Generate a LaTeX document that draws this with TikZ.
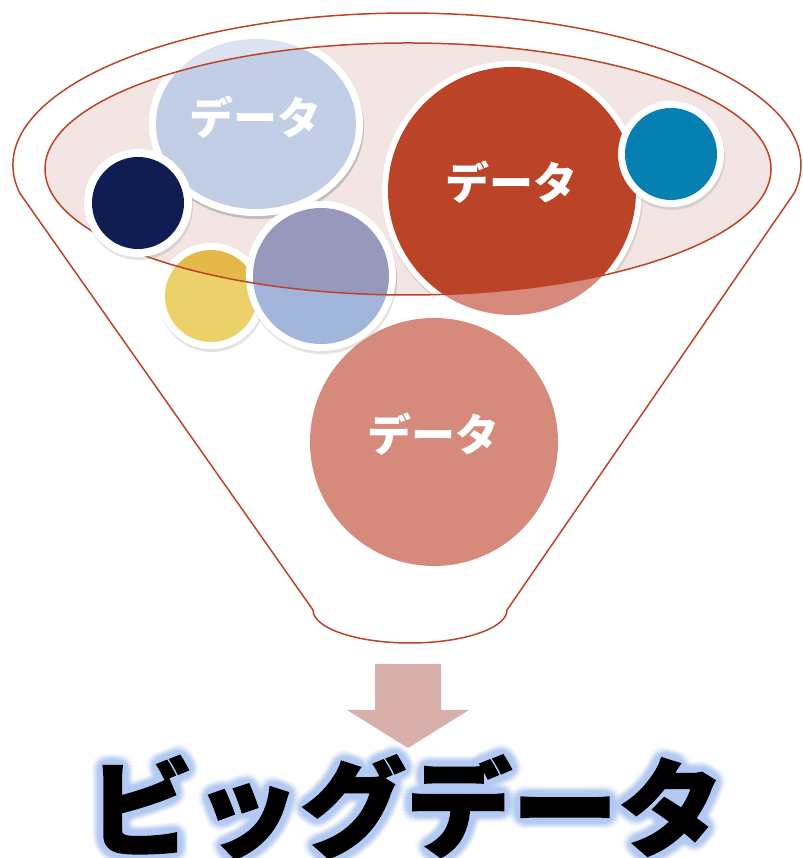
\documentclass[tikz,border=0pt]{standalone}
\usepackage{fontspec}
\newfontfamily\jp{Noto Sans CJK JP}
\newfontfamily\jph{Noto Sans CJK JP}[BoldFeatures={FakeBold=1.5}]
\usetikzlibrary{shadows}
\definecolor{funnelred}{HTML}{BB4328}
\definecolor{ellfill}{HTML}{F2E5E4}
\definecolor{lbout}{HTML}{DCE3F0}
\definecolor{lbin}{HTML}{C2CEE5}
\definecolor{navy}{HTML}{101D52}
\definecolor{yelout}{HTML}{ECD16A}
\definecolor{yelin}{HTML}{E5B84A}
\definecolor{bluout}{HTML}{A2B5DA}
\definecolor{bluin}{HTML}{9699BC}
\definecolor{redin}{HTML}{BB4328}
\definecolor{salmon}{HTML}{D68A7C}
\definecolor{teal}{HTML}{0580B0}
\definecolor{arrowpink}{HTML}{D9AFAB}
\definecolor{glow}{HTML}{B2CAF3}
\tikzset{
  ring/.style={fill=white, drop shadow={shadow xshift=1pt, shadow yshift=-3pt, opacity=0.22}},
  funnelline/.style={draw=funnelred, line width=1.5pt},
  datalabel/.style={text=white, font=\jp\bfseries\fontsize{44}{44}\selectfont, inner sep=0pt},
  heading/.style={font=\jph\bfseries\fontsize{106}{106}\selectfont, inner sep=0pt, anchor=base},
}
\newcommand\ringdisc[5]{%
  \fill[ring] (#1,#2) circle[radius=#3+#4];
  \fill[#5] (#1,#2) circle[radius=#3];}
\begin{document}
\begin{tikzpicture}[x=1pt,y=1pt]
\useasboundingbox (0,0) rectangle (802,858);
\fill[white] (0,0) rectangle (802,858);

% funnel outline
\draw[funnelline] (19.7,665) arc[start angle=190.6, end angle=-10.6, x radius=394, y radius=152]
  -- (507,248) arc[start angle=0, end angle=-180, x radius=97, y radius=33] -- cycle;

% ellipse fill
\fill[ellfill] (408,689) ellipse[x radius=363, y radius=126];

% circles, outside colours
\fill[ring] (256,734) ellipse[x radius=107, y radius=92];
\fill[lbout] (256,734) ellipse[x radius=100, y radius=85];
\ringdisc{211}{562}{46}{7}{yelout}
\ringdisc{321}{582}{68}{7}{bluout}
\fill[salmon] (512,667) circle[radius=124];
\fill[salmon] (434,416) circle[radius=124];

% parts inside the ellipse
\begin{scope}
  \clip (408,689) ellipse[x radius=363, y radius=126];
  \fill[ring] (256,734) ellipse[x radius=107, y radius=92];
  \fill[lbin] (256,734) ellipse[x radius=100, y radius=85];
  \ringdisc{211}{562}{46}{7}{yelin}
  \ringdisc{321}{582}{68}{7}{bluin}
  \ringdisc{512}{667}{124}{6}{redin}
\end{scope}

% ellipse border
\draw[funnelline] (408,689) ellipse[x radius=363, y radius=126];

% opaque small circles
\ringdisc{138}{655}{46}{8}{navy}
\ringdisc{671}{704}{46}{7}{teal}

% labels
\node[datalabel] (d1) at (255,741) {データ};
\node[datalabel] (d2) at (511,676) {データ};
\node[datalabel] (d3) at (433,424) {データ};

% arrow
\fill[arrowpink] (375,194) -- (441,194) -- (441,148) -- (469,148) -- (408,110)
  -- (347,148) -- (375,148) -- cycle;

% heading with glow
\foreach \r/\o in {11/0.06,9/0.09,7/0.14,5/0.22,3/0.35}{
  \foreach \a in {0,20,...,340}{
    \node[heading, text=glow, opacity=\o, shift={(\a:\r)}] at (406,10) {ビッグデータ};
  }
}
\node[heading, text=black] (title) at (406,10) {ビッグデータ};
\end{tikzpicture}
\end{document}
